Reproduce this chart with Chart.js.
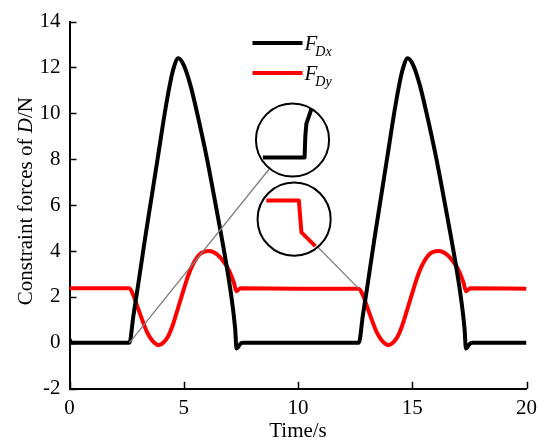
<!DOCTYPE html>
<html>
<head>
<meta charset="utf-8">
<script src="https://cdn.jsdelivr.net/npm/chart.js@4/dist/chart.umd.min.js"></script>
<style>
  html, body { margin: 0; padding: 0; background: #fff; }
  #wrap { width: 544px; height: 442px; }
</style>
</head>
<body>
<div id="wrap"><canvas id="forceChart"></canvas></div>
<script>
// time (s) and constraint force values (N)
const dxTime = [0, 0.1, 2.62, 2.8, 3.0, 3.3, 3.6, 3.9, 4.2, 4.4, 4.55, 4.76, 5.0, 5.3, 5.6, 6.0, 6.4, 6.8, 7.1, 7.25, 7.31, 7.37, 7.45, 7.58,
                12.66, 12.84, 13.04, 13.34, 13.64, 13.94, 14.24, 14.44, 14.59, 14.8, 15.04, 15.34, 15.64, 16.04, 16.44, 16.84, 17.14, 17.29, 17.35, 17.41, 17.49, 17.62, 20];
const dxForce = [0.15, 0, 0, 1.2, 2.5, 4.5, 6.4, 8.3, 10.2, 11.3, 11.95, 12.4, 12.1, 11.2, 9.95, 8.1, 6.0, 3.8, 1.9, 0.6, -0.25, -0.2, -0.08, 0,
                 0, 1.2, 2.5, 4.5, 6.4, 8.3, 10.2, 11.3, 11.95, 12.4, 12.1, 11.2, 9.95, 8.1, 6.0, 3.8, 1.9, 0.6, -0.25, -0.2, -0.08, 0, 0];

const dyTime = [0, 2.62, 2.8, 3.0, 3.2, 3.4, 3.6, 3.8, 3.93, 4.1, 4.3, 4.5, 4.7, 4.9, 5.1, 5.3, 5.5, 5.7, 5.9, 6.1, 6.3, 6.5, 6.7, 6.9, 7.05, 7.2, 7.3, 7.4, 7.5, 10, 12.66,
                12.85, 13.05, 13.25, 13.45, 13.65, 13.85, 13.98, 14.15, 14.35, 14.55, 14.75, 14.95, 15.15, 15.35, 15.55, 15.75, 15.95, 16.15, 16.35, 16.55, 16.75, 16.95, 17.1, 17.25, 17.35, 17.45, 17.55, 20];
const dyForce = [2.38, 2.38, 2.05, 1.5, 0.95, 0.45, 0.12, -0.06, -0.1, 0.0, 0.25, 0.72, 1.35, 2.0, 2.65, 3.2, 3.6, 3.86, 3.97, 4.0, 3.95, 3.82, 3.6, 3.3, 3.0, 2.6, 2.25, 2.32, 2.38, 2.36, 2.36,
                 2.05, 1.5, 0.95, 0.45, 0.12, -0.06, -0.1, 0.0, 0.25, 0.72, 1.35, 2.0, 2.65, 3.2, 3.6, 3.86, 3.97, 4.0, 3.95, 3.82, 3.6, 3.3, 3.0, 2.6, 2.25, 2.32, 2.38, 2.36];

const xTicks = [0, 5, 10, 15, 20];
const yTicks = [-2, 0, 2, 4, 6, 8, 10, 12, 14];

const serif = '"Liberation Serif", "Times New Roman", serif';

// magnified-detail circles, placed in data units
const insets = [
    { center: [9.76, 8.84], radius: 1.6, color: '#000', anchor: [2.62, 0], angle: 128.8,
      path: [[-0.81, 0.48], [0.33, 0.48], [0.35, -0.1], [0.38, -0.45], [0.52, -0.86]] },
    { center: [9.83, 5.39], radius: 1.6, color: '#ff0000', anchor: [12.66, 2.36], angle: 49.8,
      path: [[-0.76, -0.51], [0.13, -0.51], [0.2, 0.36], [0.58, 0.74]] }
];

const toPoints = (xs, ys) => xs.map((x, i) => ({ x, y: ys[i] }));

function drawRich(ctx, parts, cx, cy) {
    let total = 0;
    parts.forEach(p => { ctx.font = p.font; total += ctx.measureText(p.text).width; });
    let x = cx - total / 2;
    ctx.textAlign = 'left';
    ctx.textBaseline = 'middle';
    parts.forEach(p => {
        ctx.font = p.font;
        ctx.fillText(p.text, x, cy);
        x += ctx.measureText(p.text).width;
    });
}

const decor = {
    id: 'decor',
    afterDatasetsDraw(chart) {
        const { ctx, scales: { x, y } } = chart;
        ctx.save();
        insets.forEach(ins => {
            const cx = x.getPixelForValue(ins.center[0]);
            const cy = y.getPixelForValue(ins.center[1]);
            const r = x.getPixelForValue(ins.center[0] + ins.radius) - cx;
            const a = ins.angle * Math.PI / 180;
            // connector line
            ctx.strokeStyle = '#7f7f7f';
            ctx.lineWidth = 1.3;
            ctx.beginPath();
            ctx.moveTo(x.getPixelForValue(ins.anchor[0]), y.getPixelForValue(ins.anchor[1]));
            ctx.lineTo(cx + r * Math.cos(a), cy + r * Math.sin(a));
            ctx.stroke();
            // magnified curve
            ctx.strokeStyle = ins.color;
            ctx.lineWidth = 4;
            ctx.lineJoin = 'round';
            ctx.beginPath();
            ins.path.forEach(([px, py], i) => {
                const X = cx + px * r, Y = cy + py * r;
                i ? ctx.lineTo(X, Y) : ctx.moveTo(X, Y);
            });
            ctx.stroke();
            // circle
            ctx.strokeStyle = '#000';
            ctx.lineWidth = 2;
            ctx.beginPath();
            ctx.arc(cx, cy, r, 0, Math.PI * 2);
            ctx.stroke();
        });
        ctx.restore();
    },
    afterDraw(chart) {
        const { ctx, chartArea: area, scales: { x, y } } = chart;
        ctx.save();
        // inward ticks
        ctx.strokeStyle = '#000';
        ctx.lineWidth = 1.5;
        ctx.beginPath();
        yTicks.forEach(v => {
            const py = Math.round(y.getPixelForValue(v)) + 0.5;
            ctx.moveTo(area.left, py);
            ctx.lineTo(area.left + 7, py);
        });
        xTicks.forEach(v => {
            const px = Math.round(x.getPixelForValue(v)) + 0.5;
            ctx.moveTo(px, area.bottom);
            ctx.lineTo(px, area.bottom - 7);
        });
        ctx.stroke();

        // legend
        ctx.fillStyle = '#000';
        chart.data.datasets.forEach((ds, i) => {
            const ly = area.top + 21.5 + i * 30;
            const lx = area.left + 183;
            ctx.strokeStyle = ds.borderColor;
            ctx.lineWidth = 4;
            ctx.beginPath();
            ctx.moveTo(lx, ly);
            ctx.lineTo(lx + 50, ly);
            ctx.stroke();
            ctx.textAlign = 'left';
            ctx.textBaseline = 'alphabetic';
            ctx.font = 'italic 21px ' + serif;
            ctx.fillText('F', lx + 52, ly + 6.5);
            const fw = ctx.measureText('F').width;
            ctx.font = 'italic 14px ' + serif;
            ctx.fillText(ds.label, lx + 50 + fw, ly + 13);
        });

        // axis titles
        ctx.fillStyle = '#000';
        drawRich(ctx, [{ text: 'Time/s', font: '21px ' + serif }], (area.left + area.right) / 2, 431);
        ctx.translate(26, (area.top + area.bottom) / 2 - 4);
        ctx.rotate(-Math.PI / 2);
        drawRich(ctx, [
            { text: 'Constraint forces of ', font: '21px ' + serif },
            { text: 'D', font: 'italic 21px ' + serif },
            { text: '/N', font: '21px ' + serif }
        ], 0, 0);
        ctx.restore();
    }
};

new Chart(document.getElementById('forceChart'), {
    type: 'line',
    data: {
        datasets: [
            {
                label: 'Dx',
                data: toPoints(dxTime, dxForce),
                borderColor: '#000000',
                borderWidth: 4,
                pointRadius: 0,
                cubicInterpolationMode: 'monotone'
            },
            {
                label: 'Dy',
                data: toPoints(dyTime, dyForce),
                borderColor: '#ff0000',
                borderWidth: 4,
                pointRadius: 0,
                cubicInterpolationMode: 'monotone'
            }
        ]
    },
    options: {
        responsive: true,
        maintainAspectRatio: false,
        animation: false,
        layout: { padding: { top: 20.7, right: 17, left: 0, bottom: 0 } },
        plugins: {
            legend: { display: false },
            tooltip: { enabled: false }
        },
        scales: {
            x: {
                type: 'linear',
                min: xTicks[0],
                max: xTicks[xTicks.length - 1],
                afterFit: s => { s.height = 53.3; },
                ticks: {
                    stepSize: xTicks[1] - xTicks[0],
                    color: '#000',
                    padding: 7,
                    font: { family: serif, size: 21 }
                },
                grid: { display: false, drawTicks: false },
                border: { display: true, color: '#000', width: 2 }
            },
            y: {
                min: yTicks[0],
                max: yTicks[yTicks.length - 1],
                afterFit: s => { s.width = 69.5; },
                ticks: {
                    stepSize: yTicks[1] - yTicks[0],
                    color: '#000',
                    padding: 9,
                    font: { family: serif, size: 21 }
                },
                grid: { display: false, drawTicks: false },
                border: { display: true, color: '#000', width: 2 }
            }
        }
    },
    plugins: [decor]
});
</script>
</body>
</html>
